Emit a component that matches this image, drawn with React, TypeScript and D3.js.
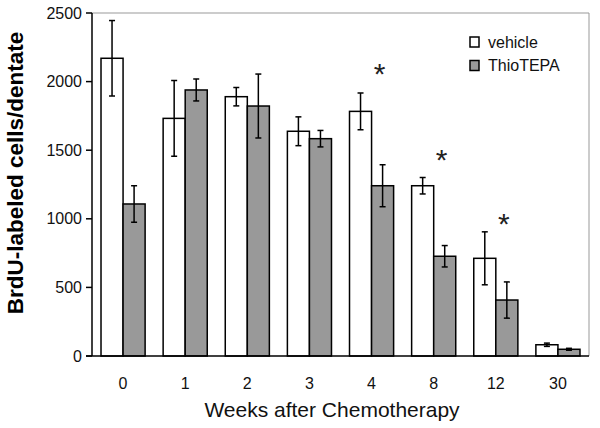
import React from "react";
import * as d3 from "d3";

const weeks = ["0", "1", "2", "3", "4", "8", "12", "30"];
const vehicle = [2170, 1732, 1890, 1638, 1783, 1241, 712, 82];
const vehicleErr = [275, 276, 67, 105, 134, 60, 193, 12];
const thio = [1108, 1939, 1822, 1584, 1241, 727, 408, 49];
const thioErr = [133, 80, 233, 60, 153, 78, 132, 7];
const yTicks = [0, 500, 1000, 1500, 2000, 2500];
const sigWeeks = ["4", "8", "12"];
const sigLevel = [2110, 1480, 1015];
const seriesNames = ["vehicle", "ThioTEPA"];

const W = 600, H = 428;
const left = 92, right = 589, top = 13, bottom = 356;
const FONT = "'Liberation Sans', Arial, sans-serif";
const GRAY = "#999999";

export default function App() {
  const x = d3.scaleBand<string>().domain(weeks).range([left, right]).paddingInner(0.29).paddingOuter(0.145);
  const sub = d3.scaleBand<string>().domain(seriesNames).range([0, x.bandwidth()]);
  const y = d3.scaleLinear().domain([0, 2500]).range([bottom, top]);
  const series = [
    { name: "vehicle", vals: vehicle, errs: vehicleErr, fill: "#ffffff" },
    { name: "ThioTEPA", vals: thio, errs: thioErr, fill: GRAY },
  ];
  const cap = 3;
  return (
    <svg width={W} height={H} style={{ position: "absolute", left: 0, top: 0, background: "#fff" }} fontFamily={FONT}>
      {/* frame */}
      <line x1={left} x2={right} y1={top} y2={top} stroke={GRAY} strokeWidth={1} />
      <line x1={right} x2={right} y1={top} y2={bottom} stroke={GRAY} strokeWidth={1} />
      {/* bars */}
      {series.map((s) =>
        weeks.map((w, i) => (
          <rect key={s.name + w} x={(x(w) as number) + (sub(s.name) as number)} y={y(s.vals[i])}
            width={sub.bandwidth()} height={y(0) - y(s.vals[i])} fill={s.fill} stroke="#000" strokeWidth={1.5} />
        ))
      )}
      {/* error bars */}
      {series.map((s) =>
        weeks.map((w, i) => {
          const cx = (x(w) as number) + (sub(s.name) as number) + sub.bandwidth() / 2;
          const y1 = y(s.vals[i] + s.errs[i]);
          const y2 = y(s.vals[i] - s.errs[i]);
          return (
            <g key={"e" + s.name + w} stroke="#000" strokeWidth={1.5}>
              <line x1={cx} x2={cx} y1={y1} y2={y2} />
              <line x1={cx - cap} x2={cx + cap} y1={y1} y2={y1} />
              <line x1={cx - cap} x2={cx + cap} y1={y2} y2={y2} />
            </g>
          );
        })
      )}
      {/* asterisks */}
      {sigWeeks.map((w, i) => (
        <text key={"s" + w} x={(x(w) as number) + x.bandwidth() / 2 + 8} y={y(sigLevel[i]) + 17}
          fontSize={30} textAnchor="middle" fill="#222">*</text>
      ))}
      {/* axes */}
      <line x1={left} x2={left} y1={top} y2={bottom} stroke="#000" strokeWidth={1.5} />
      <line x1={left - 6} x2={right} y1={bottom} y2={bottom} stroke="#000" strokeWidth={1.5} />
      {yTicks.map((t) => (
        <g key={"t" + t}>
          <line x1={left - 6} x2={left} y1={y(t)} y2={y(t)} stroke="#000" strokeWidth={1.5} />
          <text x={82} y={y(t) + 5.5} fontSize={16} textAnchor="end" fill="#111">{t}</text>
        </g>
      ))}
      {weeks.map((w) => (
        <text key={"l" + w} x={(x(w) as number) + x.bandwidth() / 2} y={389} fontSize={16} textAnchor="middle" fill="#111">{w}</text>
      ))}
      <text x={332} y={417} fontSize={21} textAnchor="middle" fill="#111">Weeks after Chemotherapy</text>
      <text transform={`translate(23,173) rotate(-90)`} fontSize={22.5} fontWeight="bold" textAnchor="middle" fill="#000">BrdU-labeled cells/dentate</text>
      {/* legend */}
      {series.map((s, i) => (
        <g key={"lg" + s.name} transform={`translate(470,${37 + i * 23.5})`}>
          <rect x={0} y={0} width={9} height={10} fill={s.fill} stroke="#000" strokeWidth={1.5} />
          <text x={18} y={10.5} fontSize={16} fill="#111">{s.name}</text>
        </g>
      ))}
    </svg>
  );
}
